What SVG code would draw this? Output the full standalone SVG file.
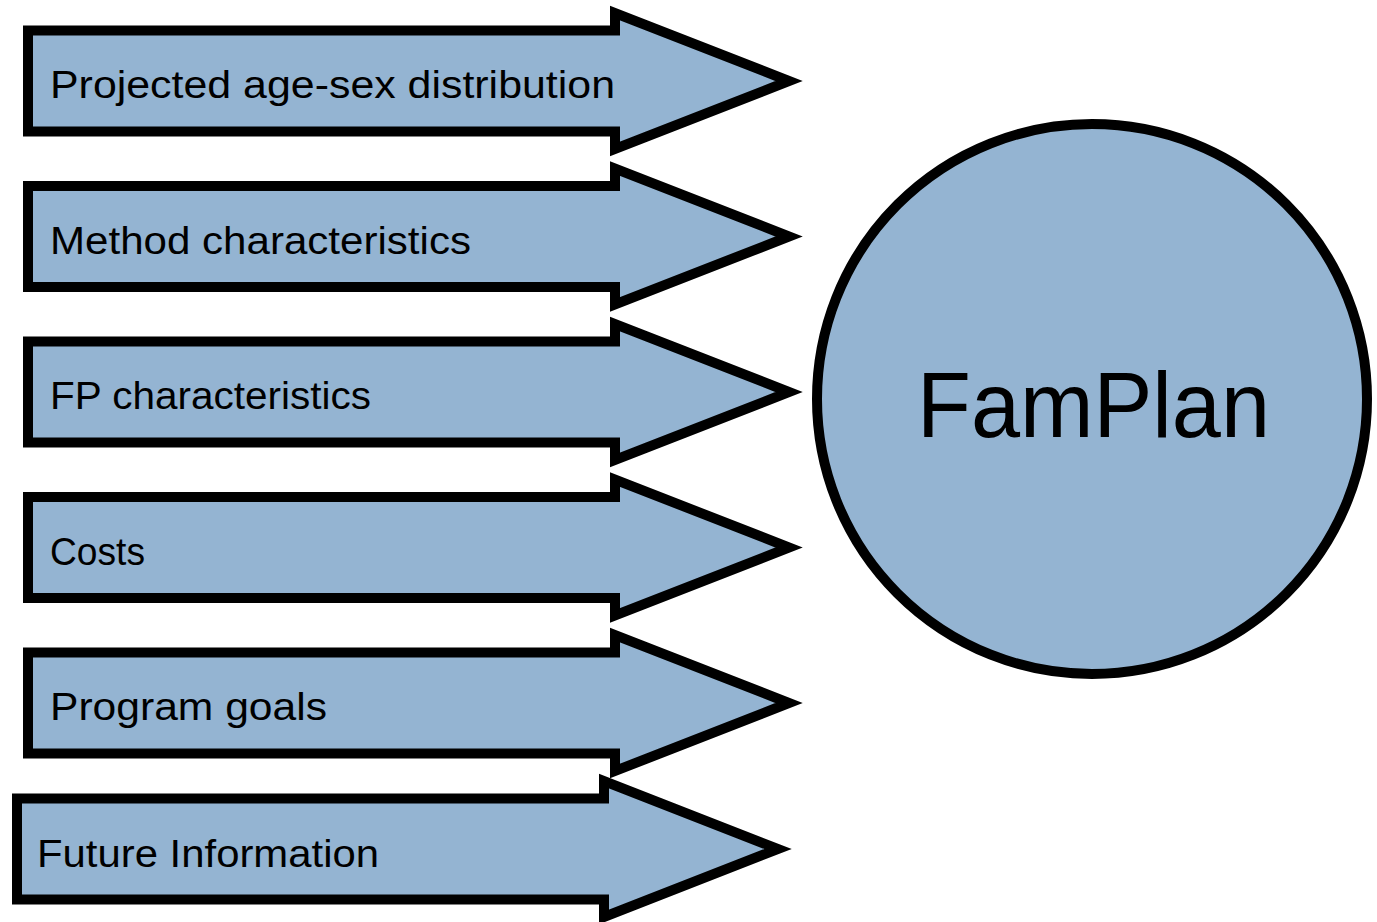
<svg xmlns="http://www.w3.org/2000/svg" width="1377" height="922" viewBox="0 0 1377 922">
<style>
.shape{fill:#94B4D2;stroke:#000;stroke-width:10;stroke-linejoin:miter;stroke-miterlimit:10}
.lbl{font-family:"Liberation Sans","DejaVu Sans",sans-serif;font-size:38px;fill:#000}
.big{font-family:"Liberation Sans","DejaVu Sans",sans-serif;font-size:92px;fill:#000}
</style>
<rect width="1377" height="922" fill="#fff"/>
<g id="connectors"/>
<g id="n1">
<polygon class="shape" points="28,30.5 615,30.5 615,13 789,81 615,149 615,131.5 28,131.5"/>
<text class="lbl" x="50" y="98" textLength="565" lengthAdjust="spacingAndGlyphs">Projected age-sex distribution</text>
</g>
<g id="n2">
<polygon class="shape" points="28,186 615,186 615,168.5 789,236.5 615,304.5 615,287 28,287"/>
<text class="lbl" x="50" y="253.5" textLength="421" lengthAdjust="spacingAndGlyphs">Method characteristics</text>
</g>
<g id="n3">
<polygon class="shape" points="28,341.5 615,341.5 615,324 789,392 615,460 615,442.5 28,442.5"/>
<text class="lbl" x="50" y="409" textLength="321" lengthAdjust="spacingAndGlyphs">FP characteristics</text>
</g>
<g id="n4">
<polygon class="shape" points="28,497 615,497 615,479.5 789,547.5 615,615.5 615,598 28,598"/>
<text class="lbl" x="50" y="564.5" textLength="95" lengthAdjust="spacingAndGlyphs">Costs</text>
</g>
<g id="n5">
<polygon class="shape" points="28,652.5 615,652.5 615,635 789,703 615,771 615,753.5 28,753.5"/>
<text class="lbl" x="50" y="720" textLength="277" lengthAdjust="spacingAndGlyphs">Program goals</text>
</g>
<g id="n6">
<polygon class="shape" points="17,798.5 604,798.5 604,781 778,849 604,917 604,899.5 17,899.5"/>
<text class="lbl" x="37" y="866.5" textLength="342" lengthAdjust="spacingAndGlyphs">Future Information</text>
</g>
<g id="famplan">
<circle class="shape" cx="1092" cy="399" r="275"/>
<text class="big" x="917" y="437" textLength="353" lengthAdjust="spacingAndGlyphs">FamPlan</text>
</g>
</svg>
